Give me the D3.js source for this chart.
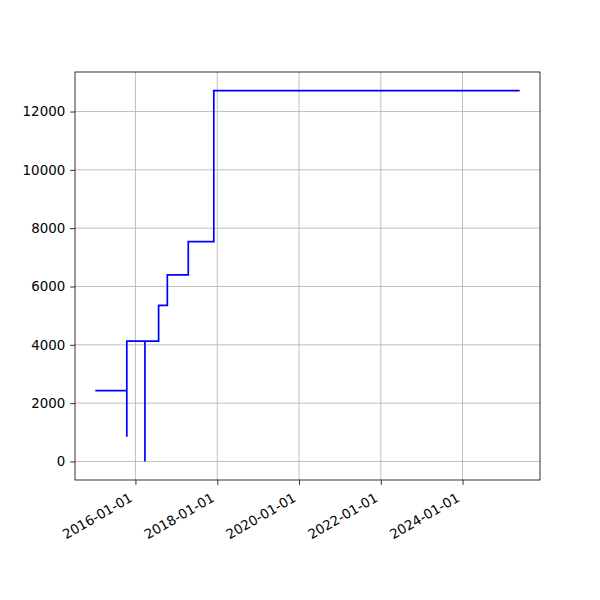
<!DOCTYPE html>
<html>
<head>
<meta charset="utf-8">
<script src="https://cdn.jsdelivr.net/npm/d3@7"></script>
<style>
  html, body { margin: 0; padding: 0; background: #fff; }
  svg { display: block; }
  text { font-family: "DejaVu Sans", sans-serif; }
</style>
</head>
<body>
<svg id="chart" width="600" height="600"></svg>
<script>
// ---- Data ----
const dates = ["2015-01-15", "2015-10-16", "2015-10-16", "2016-03-26", "2016-03-26",
               "2016-07-26", "2016-10-12", "2017-04-17", "2017-12-01", "2025-05-18"];
const values = [2430, 850, 4130, 0, 4130, 5350, 6400, 7540, 12720, 12720];
const xTickLabels = ["2016-01-01", "2018-01-01", "2020-01-01", "2022-01-01", "2024-01-01"];
const yTickValues = [0, 2000, 4000, 6000, 8000, 10000, 12000];

// ---- Layout ----
const plotL = 75, plotR = 540, plotT = 72, plotB = 480;
const fontSize = 13.4;
const tickLen = 4.9, tickPad = 4.9;

const parse = d3.utcParse("%Y-%m-%d");
const data = dates.map((d, i) => ({ date: parse(d), value: values[i] }));

const xExt = d3.extent(data, d => d.date.getTime());
const xSpan = xExt[1] - xExt[0];
const x = d3.scaleUtc()
  .domain([new Date(xExt[0] - 0.05 * xSpan), new Date(xExt[1] + 0.05 * xSpan)])
  .range([plotL, plotR]);

const yExt = d3.extent(values);
const ySpan = yExt[1] - yExt[0];
const y = d3.scaleLinear()
  .domain([yExt[0] - 0.05 * ySpan, yExt[1] + 0.05 * ySpan])
  .range([plotB, plotT]);

const svg = d3.select("#chart");
svg.append("rect").attr("width", 600).attr("height", 600).attr("fill", "#fff");

const xTicks = xTickLabels.map(parse);

// grid
const grid = svg.append("g");
grid.selectAll("line.gx").data(xTicks).join("line")
  .attr("class", "gx")
  .attr("x1", d => x(d)).attr("x2", d => x(d))
  .attr("y1", plotT).attr("y2", plotB)
  .attr("stroke", "#b0b0b0").attr("stroke-width", 0.8);
grid.selectAll("line.gy").data(yTickValues).join("line")
  .attr("class", "gy")
  .attr("x1", plotL).attr("x2", plotR)
  .attr("y1", d => y(d)).attr("y2", d => y(d))
  .attr("stroke", "#b0b0b0").attr("stroke-width", 0.8);

// line
const line = d3.line()
  .x(d => x(d.date))
  .y(d => y(d.value))
  .curve(d3.curveStepAfter);
svg.append("path")
  .datum(data)
  .attr("d", line)
  .attr("fill", "none")
  .attr("stroke", "#0000ff")
  .attr("stroke-width", 1.7)
  .attr("stroke-linejoin", "miter")
  .attr("stroke-linecap", "square");

// axes
const fmt = d3.utcFormat("%Y-%m-%d");
const xAxis = d3.axisBottom(x).tickValues(xTicks).tickFormat(fmt)
  .tickSizeInner(tickLen).tickSizeOuter(0).tickPadding(tickPad);
const gx = svg.append("g").attr("transform", `translate(0,${plotB})`).call(xAxis);
gx.select(".domain").remove();
gx.selectAll(".tick line").attr("stroke", "#000").attr("stroke-width", 0.8);
gx.selectAll(".tick text")
  .attr("font-size", fontSize)
  .attr("font-family", "DejaVu Sans, sans-serif")
  .attr("fill", "#000")
  .attr("text-anchor", "end")
  .attr("dy", null)
  .attr("y", 0)
  .attr("x", 0)
  .attr("transform", "translate(-2.5,20.5) rotate(-30)");

const yAxis = d3.axisLeft(y).tickValues(yTickValues).tickFormat(d3.format("d"))
  .tickSizeInner(tickLen).tickSizeOuter(0).tickPadding(tickPad);
const gy = svg.append("g").attr("transform", `translate(${plotL},0)`).call(yAxis);
gy.select(".domain").remove();
gy.selectAll(".tick line").attr("stroke", "#000").attr("stroke-width", 0.8);
gy.selectAll(".tick text")
  .attr("font-size", fontSize)
  .attr("font-family", "DejaVu Sans, sans-serif")
  .attr("fill", "#000");

// spines
svg.append("rect")
  .attr("x", plotL).attr("y", plotT)
  .attr("width", plotR - plotL).attr("height", plotB - plotT)
  .attr("fill", "none").attr("stroke", "#000").attr("stroke-width", 0.8);
</script>
</body>
</html>
